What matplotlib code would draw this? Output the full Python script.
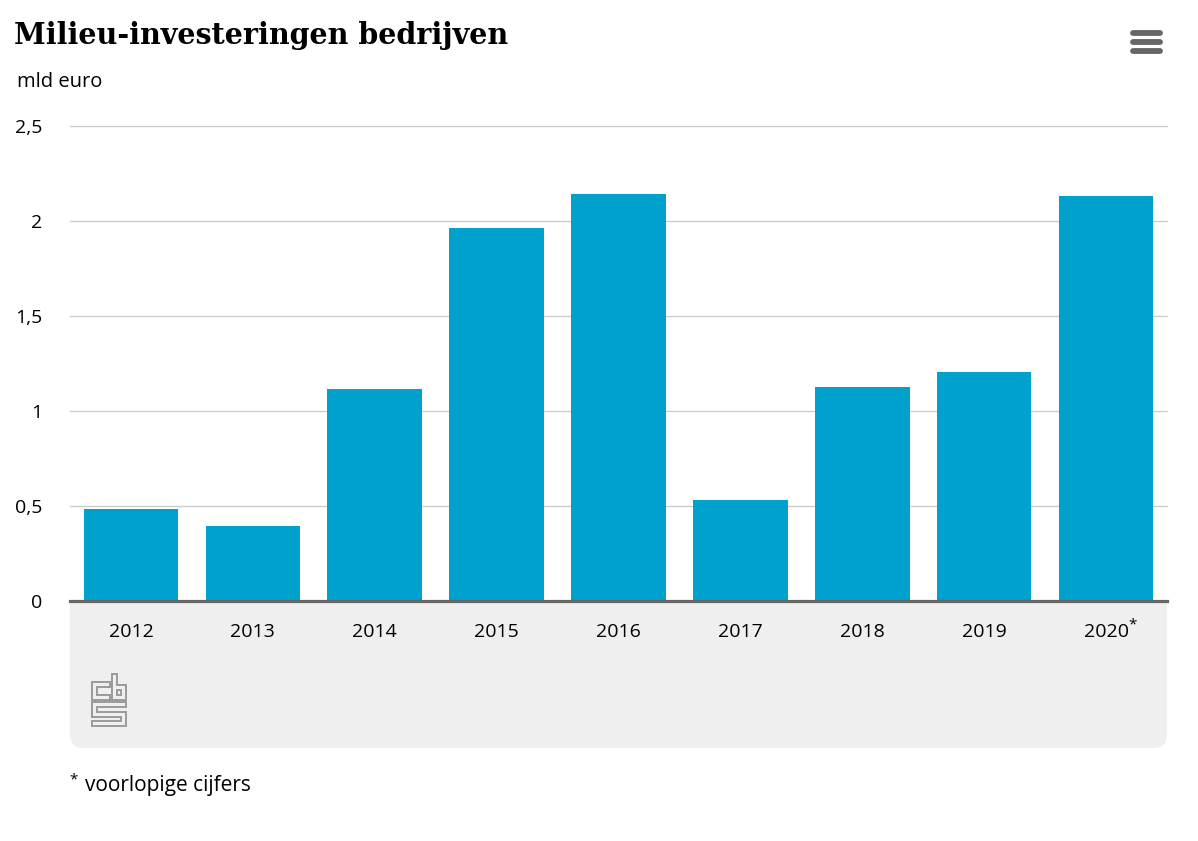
import matplotlib
matplotlib.use("Agg")
import matplotlib.pyplot as plt
from matplotlib.patches import FancyBboxPatch, Rectangle
from matplotlib.lines import Line2D

years = ["2012", "2013", "2014", "2015", "2016", "2017", "2018", "2019", "2020*"]
values = [0.484, 0.395, 1.116, 1.963, 2.142, 0.532, 1.126, 1.205, 2.132]
yticks = [0, 0.5, 1, 1.5, 2, 2.5]
ytick_labels = ["0", "0,5", "1", "1,5", "2", "2,5"]

title = "Milieu-investeringen bedrijven"
unit = "mld euro"
footnote = "voorlopige cijfers"

W, H = 1198, 841
plt.rcParams['font.family'] = ['Open Sans', 'DejaVu Sans']

fig = plt.figure(figsize=(W / 100, H / 100), dpi=100)

def fx(px):
    return px / W

def fy(py):
    return 1 - py / H

# grey footer panel (rounded bottom corners)
panel = FancyBboxPatch((fx(70), fy(748)), fx(1167) - fx(70), fy(601) - fy(748),
                       boxstyle="round,pad=0,rounding_size=0.011", transform=fig.transFigure,
                       facecolor="#efefef", edgecolor="none", zorder=-5,
                       mutation_aspect=W / H)
fig.patches.append(panel)
fig.patches.append(Rectangle((fx(70), fy(640)), fx(1167) - fx(70), fy(601) - fy(640),
                             transform=fig.transFigure, facecolor="#efefef",
                             edgecolor="none", zorder=-5))

ax = fig.add_axes([fx(70), fy(601), fx(1167) - fx(70), fy(126) - fy(601)])
ax.set_zorder(2)
ax.set_facecolor("none")
x = list(range(len(years)))
ax.bar(x, values, width=0.775, color="#00a1cd", zorder=2)
ax.set_xlim(-0.5, len(years) - 0.5)
ax.set_ylim(0, 2.5)
ax.set_yticks(yticks)
ax.set_yticklabels(ytick_labels)
ax.set_xticks(x)
ax.set_xticklabels([y.rstrip("*") for y in years])
for i, y in enumerate(years):
    if y.endswith("*"):
        ax.annotate("*", xy=(i, 0), xycoords=ax.get_xaxis_transform(),
                    xytext=(16.2, -17.5), textcoords="offset points",
                    ha="left", va="center", fontsize=11, color="#000000",
                    annotation_clip=False)
for s in ["top", "right", "left"]:
    ax.spines[s].set_visible(False)
ax.spines["bottom"].set_color("#666666")
ax.spines["bottom"].set_linewidth(2.3)
ax.spines["bottom"].set_zorder(3)
ax.tick_params(axis="x", length=0, pad=15.5, labelsize=14, colors="#000000")
ax.tick_params(axis="y", length=0, pad=20, labelsize=14, colors="#000000")
ax.yaxis.grid(True, color="#cccccc", linewidth=1)
ax.set_axisbelow(True)
for gl in ax.get_ygridlines():
    gl.set_clip_on(False)

fig.text(fx(14), fy(36), title, fontsize=20.6, fontweight="bold", family=["DejaVu Serif"],
         va="center", ha="left", color="#000000")
fig.text(fx(17), fy(82), unit, fontsize=14.5, va="center", ha="left")
fig.text(fx(69), fy(780), "*", fontsize=11, va="center", ha="left")
fig.text(fx(85), fy(785), footnote, fontsize=15, va="center", ha="left")

# menu icon
for yy in [33, 42, 51]:
    fig.add_artist(Line2D([fx(1133), fx(1160)], [fy(yy), fy(yy)], color="#666666",
                          linewidth=4.2, solid_capstyle="round"))

# simple cbs logo
lax = fig.add_axes([fx(91), fy(727), fx(127) - fx(91), fy(673) - fy(727)])
lax.set_zorder(3)
lax.set_facecolor("none")
lax.set_xlim(0, 36)
lax.set_ylim(0, 54)
lax.axis("off")
lc = "#9a9a9a"
lw = 1.4
paths = [
    # c (top-left)
    [(19, 27), (1, 27), (1, 45), (19, 45), (19, 40), (6, 40), (6, 32), (19, 32), (19, 27)],
    # b (top-right)
    [(21, 27), (35, 27), (35, 42), (26, 42), (26, 53), (21, 53), (21, 27)],
    [(26, 32), (30, 32), (30, 37), (26, 37), (26, 32)],
    # s (bottom)
    [(1, 25), (35, 25), (35, 20), (6, 20), (6, 15), (35, 15), (35, 1), (1, 1), (1, 6),
     (30, 6), (30, 10), (1, 10), (1, 25)],
]
for p in paths:
    xs, ys = zip(*p)
    lax.plot(xs, ys, color=lc, linewidth=lw, solid_joinstyle="miter")

fig.savefig("out.png", dpi=100)
